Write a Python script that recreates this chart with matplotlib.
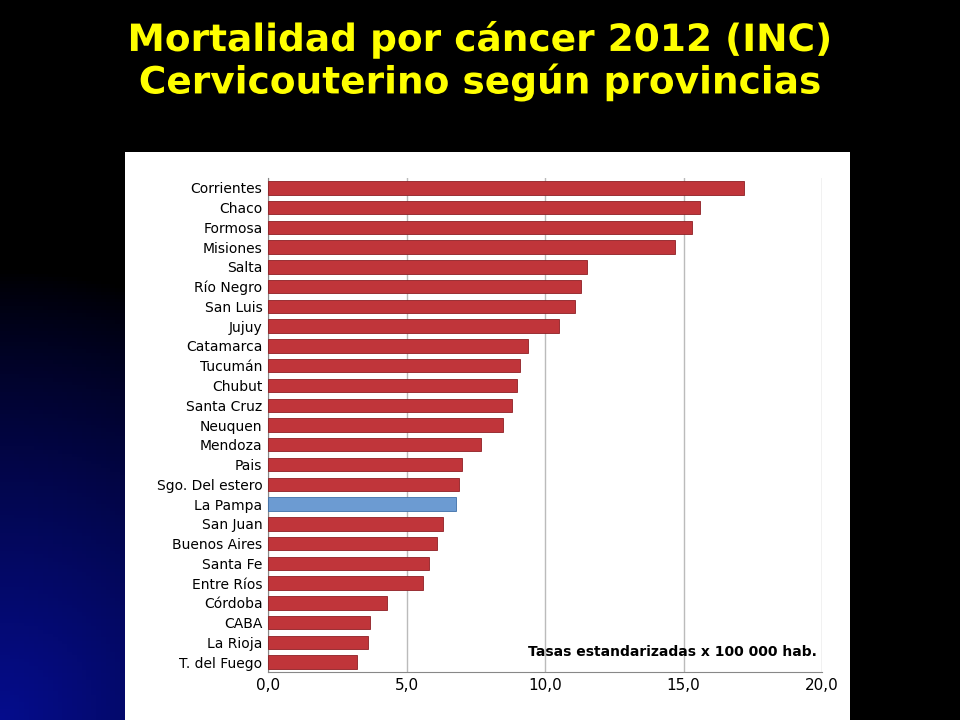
import matplotlib
matplotlib.use("Agg")
import matplotlib.pyplot as plt
import numpy as np
import matplotlib.patheffects as pe

provincias = ["Corrientes","Chaco","Formosa","Misiones","Salta","Río Negro","San Luis","Jujuy",
    "Catamarca","Tucumán","Chubut","Santa Cruz","Neuquen","Mendoza","Pais","Sgo. Del estero",
    "La Pampa","San Juan","Buenos Aires","Santa Fe","Entre Ríos","Córdoba","CABA","La Rioja","T. del Fuego"]
tasas = [17.2,15.6,15.3,14.7,11.5,11.3,11.1,10.5,9.4,9.1,9.0,8.8,8.5,7.7,7.0,6.9,
    6.8,6.3,6.1,5.8,5.6,4.3,3.7,3.6,3.2]
ticks = [0,5,10,15,20]
tick_labels = ["0,0","5,0","10,0","15,0","20,0"]

fig = plt.figure(figsize=(9.6,7.2), dpi=100)
bg = fig.add_axes([0,0,1,1]); bg.set_axis_off()
yy, xx = np.mgrid[0:1:200j, 0:1:200j]
d = np.clip(1 - np.hypot(xx*2.2, (yy)*1.6), 0, 1)
img = np.zeros((200,200,3)); img[...,2] = 0.55*d**0.8; img[...,0]=0.02*d; img[...,1]=0.05*d
bg.imshow(img, origin="lower", extent=[0,1,0,1], aspect="auto")
bg.set_xlim(0,1); bg.set_ylim(0,1)

fig.text(0.5, 0.915, "Mortalidad por cáncer 2012 (INC)\nCervicouterino según provincias",
         ha="center", va="center", color="#FFFF00", fontsize=27, fontweight="bold",
         linespacing=1.15, path_effects=[pe.withSimplePatchShadow(offset=(3,-3), shadow_rgbFace="black", alpha=1)])

panel = fig.add_axes([125/960, 0, (850-125)/960, (720-152)/720])
panel.set_facecolor("white"); panel.set_xticks([]); panel.set_yticks([])
for s in panel.spines.values(): s.set_visible(False)

ax = fig.add_axes([268/960, (720-672)/720, (822-268)/960, (672-178)/720])
ax.set_facecolor("white")
y = np.arange(len(provincias))
colors = ["#6C9BD2" if p=="La Pampa" else "#C0353A" for p in provincias]
edges = ["#3E6FA8" if p=="La Pampa" else "#8E1F24" for p in provincias]
ax.barh(y, tasas, height=0.68, color=colors, edgecolor=edges, linewidth=0.6, zorder=3)
ax.set_ylim(len(provincias)-0.5, -0.5)
ax.set_xlim(0,20)
ax.set_xticks(ticks); ax.set_xticklabels(tick_labels, fontsize=11)
ax.set_yticks(y); ax.set_yticklabels(provincias, fontsize=10)
ax.grid(axis="x", color="#BBBBBB", linewidth=1, zorder=0)
for s in ["top","right"]: ax.spines[s].set_visible(False)
ax.spines["left"].set_color("#888888"); ax.spines["bottom"].set_color("#888888")
ax.tick_params(length=0, pad=4)
ax.text(0.99, 0.04, "Tasas estandarizadas x 100 000 hab.", transform=ax.transAxes,
        ha="right", va="center", fontsize=10, fontweight="bold", zorder=5)
fig.savefig("out.png", dpi=100, facecolor="black")
